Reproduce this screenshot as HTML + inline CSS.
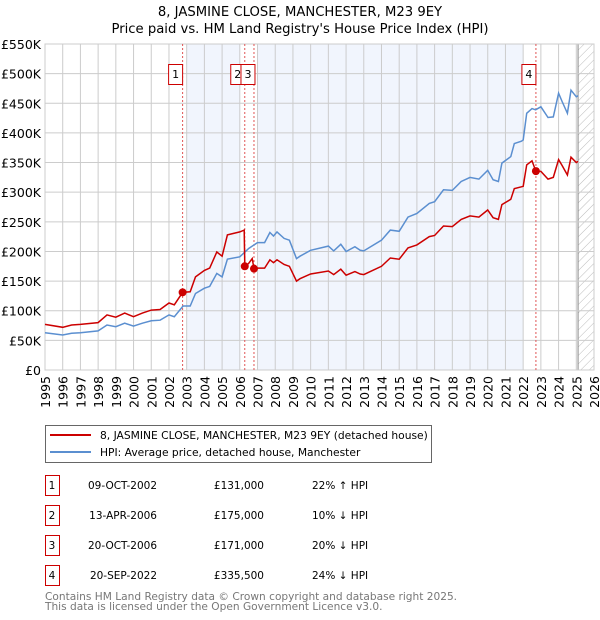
<!DOCTYPE html>
<html><head><meta charset="utf-8"><style>
body{margin:0;background:#fff;width:600px;height:620px;overflow:hidden}
svg{display:block;font-family:"DejaVu Sans","Liberation Sans",sans-serif}
</style></head><body>
<svg id="chart" width="600" height="620">
<defs><pattern id="hatch" width="6" height="6" patternUnits="userSpaceOnUse" patternTransform="rotate(45)"><line x1="0" y1="0" x2="0" y2="6" stroke="#bbb" stroke-width="1"/></pattern></defs>
<text x="300" y="16" text-anchor="middle" font-size="13.2">8, JASMINE CLOSE, MANCHESTER, M23 9EY</text>
<text x="300" y="33" text-anchor="middle" font-size="13.2">Price paid vs. HM Land Registry's House Price Index (HPI)</text>
<g id="plot"></g>
<g>
<rect x="45.5" y="425.5" width="386" height="37" fill="#fff" stroke="#666"/>
<line x1="50" y1="435" x2="91" y2="435" stroke="#cc0000" stroke-width="2"/>
<text x="100" y="439" font-size="10.7">8, JASMINE CLOSE, MANCHESTER, M23 9EY (detached house)</text>
<line x1="50" y1="452" x2="91" y2="452" stroke="#5b8fd0" stroke-width="2"/>
<text x="100" y="456" font-size="10.7">HPI: Average price, detached house, Manchester</text>
</g>
<g id="table" font-size="10.5"></g>
<text x="45" y="600" font-size="10.6" fill="#777">Contains HM Land Registry data © Crown copyright and database right 2025.</text>
<text x="45" y="610" font-size="10.6" fill="#777">This data is licensed under the Open Government Licence v3.0.</text>
</svg>
<script>
const hpiYears=[1995,1996,1996.5,1997,1998,1998.5,1999,1999.5,2000,2000.5,2001,2001.5,2002,2002.3,2002.8,2003.2,2003.5,2004,2004.3,2004.7,2005,2005.3,2006,2006.5,2007,2007.4,2007.7,2007.9,2008.1,2008.5,2008.8,2009.2,2009.4,2010,2011,2011.3,2011.7,2012,2012.5,2012.8,2013,2014,2014.5,2015,2015.5,2016,2016.7,2017,2017.5,2018,2018.5,2019,2019.5,2020,2020.3,2020.6,2020.8,2021.3,2021.5,2021.9,2022,2022.2,2022.5,2022.7,2023,2023.4,2023.7,2024,2024.2,2024.5,2024.7,2025,2025.1];
const hpiValues=[63,59,62,63,66,76,73,79,74,79,83,84,93,90,108,108,129,138,141,163,157,187,191,205,215,215,232,226,233,222,219,188,192,202,209,201,212,200,208,202,201,219,236,234,258,264,281,284,304,303,318,325,322,337,321,318,349,360,382,386,388,433,441,439,444,426,427,467,453,433,472,461,463];
const redYears=[1995,1996,1996.5,1997,1998,1998.5,1999,1999.5,2000,2000.5,2001,2001.5,2002,2002.3,2002.77,2003.2,2003.5,2004,2004.3,2004.7,2005,2005.3,2006,2006.25,2006.28,2006.5,2006.7,2006.8,2007,2007.4,2007.7,2007.9,2008.1,2008.5,2008.8,2009.2,2009.4,2010,2011,2011.3,2011.7,2012,2012.5,2012.8,2013,2014,2014.5,2015,2015.5,2016,2016.7,2017,2017.5,2018,2018.5,2019,2019.5,2020,2020.3,2020.6,2020.8,2021.3,2021.5,2021.9,2022,2022.2,2022.5,2022.72,2023,2023.4,2023.7,2024,2024.2,2024.5,2024.7,2025,2025.1];
const redValues=[77,72,76,77,80,93,89,96,90,96,101,102,113,110,131,132,157,168,172,199,192,228,233,236,175,180,188,171,172,172,186,181,186,178,175,150,154,162,167,161,170,160,166,162,161,175,189,187,206,211,225,227,243,242,254,260,258,270,257,254,279,288,306,309,310,346,353,335,335,322,325,355,345,329,359,350,352];
const saleYears=[2002.77,2006.28,2006.8,2022.72];
const saleValues=[131,175,171,335.5];
const saleLabels=["1","2","3","4"];
const saleDates=["09-OCT-2002","13-APR-2006","20-OCT-2006","20-SEP-2022"];
const salePrices=["£131,000","£175,000","£171,000","£335,500"];
const saleDiffs=["22% ↑ HPI","10% ↓ HPI","20% ↓ HPI","24% ↓ HPI"];
const yTicks=[0,50,100,150,200,250,300,350,400,450,500,550];
const xTicks=[1995,1996,1997,1998,1999,2000,2001,2002,2003,2004,2005,2006,2007,2008,2009,2010,2011,2012,2013,2014,2015,2016,2017,2018,2019,2020,2021,2022,2023,2024,2025,2026];
const shadeRanges=[[2003,2006],[2007,2022]];
const X0=45,X1=594,Y0=370,Y1=44;
const x=v=>X0+(v-1995)/(2026-1995)*(X1-X0);
const y=v=>Y0-v/550*(Y0-Y1);
const NS="http://www.w3.org/2000/svg";
const plot=document.getElementById('plot');
function mk(tag,attrs,parent){const e=document.createElementNS(NS,tag);for(const k in attrs)e.setAttribute(k,attrs[k]);(parent||plot).appendChild(e);return e;}
shadeRanges.forEach(r=>{const e=mk('rect',{x:x(r[0]),y:Y1,width:x(r[1])-x(r[0]),height:Y0-Y1,fill:'#f1f5fd'});

});
const hz=mk('rect',{x:x(2025.1),y:Y1,width:X1-x(2025.1),height:Y0-Y1,fill:'url(#hatch)'});


mk('line',{x1:x(2025.1),x2:x(2025.1),y1:Y1,y2:Y0,stroke:'#888','stroke-width':1});
yTicks.forEach(t=>{mk('line',{x1:X0,x2:X1,y1:y(t),y2:y(t),stroke:'#ccc'});
const tx=mk('text',{x:X0-4,y:y(t)+5,'text-anchor':'end','font-size':12.5});tx.textContent=t===0?'£0':'£'+t+'K';

});
xTicks.forEach(t=>{mk('line',{x1:x(t),x2:x(t),y1:Y1,y2:Y0,stroke:'#ccc'});
const tx=mk('text',{x:0,y:0,'font-size':12.5,'text-anchor':'end',transform:`translate(${x(t)+5},${Y0+6}) rotate(-90)`});tx.textContent=t;

});
mk('rect',{x:X0,y:Y1,width:X1-X0,height:Y0-Y1,fill:'none',stroke:'#ccc'});
saleYears.forEach((s,i)=>{mk('line',{x1:x(s),x2:x(s),y1:Y1,y2:Y0,stroke:'#e05555','stroke-dasharray':'2,2'});
const bx=i===2?x(s)-13:x(s)-14;
const b=mk('rect',{x:bx,y:64.5,width:14,height:20,fill:'#fff',stroke:'#cc0000'});


const t=mk('text',{x:bx+7,y:78,'text-anchor':'middle','font-size':11});t.textContent=saleLabels[i];});
const hp=mk('path',{d:hpiYears.map((v,i)=>(i?'L':'M')+x(v).toFixed(1)+','+y(hpiValues[i]).toFixed(1)).join(''),fill:'none',stroke:'#5b8fd0','stroke-width':1.5});


const rp=mk('path',{d:redYears.map((v,i)=>(i?'L':'M')+x(v).toFixed(1)+','+y(redValues[i]).toFixed(1)).join(''),fill:'none',stroke:'#cc0000','stroke-width':1.5});


saleYears.forEach((s,i)=>{const c=mk('circle',{cx:x(s),cy:y(saleValues[i]),r:4,fill:'#cc0000'});

});
const tb=document.getElementById('table');
saleLabels.forEach((l,i)=>{const yy=475+i*30;
const b=mk('rect',{x:45.5,y:yy+0.5,width:14,height:20,fill:'#fff',stroke:'#cc0000'},tb);


const vals=[[52,l,'middle'],[157,saleDates[i],'end'],[264,salePrices[i],'end'],[312,saleDiffs[i],'start']];
vals.forEach(v=>{const t=mk('text',{x:v[0],y:yy+14,'text-anchor':v[2]},tb);t.textContent=v[1];

});});
</script>
</body></html>
